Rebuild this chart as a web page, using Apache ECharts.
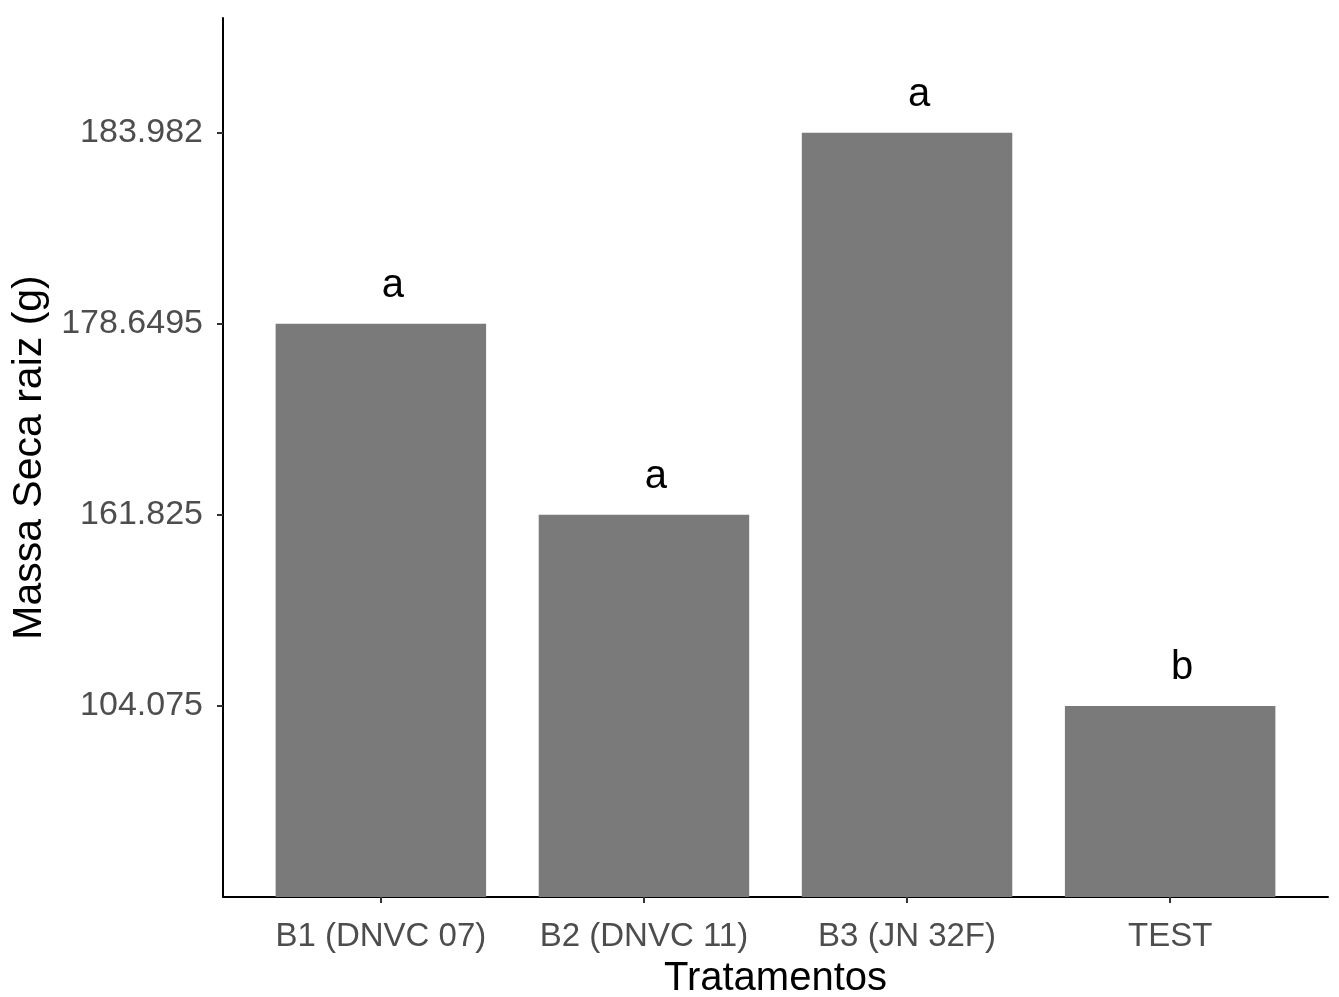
<!DOCTYPE html>
<html>
<head>
<meta charset="utf-8">
<script src="https://cdn.jsdelivr.net/npm/echarts@6/dist/echarts.min.js"></script>
<style>
  html, body { margin: 0; padding: 0; background: #ffffff; }
  #chart { width: 1339px; height: 997px; }
</style>
</head>
<body>
<div id="chart"></div>
<script>
// Treatments and their mean root dry mass (g)
const categories = ['B1 (DNVC 07)', 'B2 (DNVC 11)', 'B3 (JN 32F)', 'TEST'];
const values = [178.6495, 161.825, 183.982, 104.075];
// Tukey grouping letters shown above each bar
const letters = ['a', 'a', 'a', 'b'];

// The y axis is discrete: each distinct value is one level, ordered ascending
const levels = Array.from(new Set(values)).sort((a, b) => a - b);
const levelLabels = levels.map(v => String(v));

const FONT = '"Liberation Sans", Arial, sans-serif';
const GRID = { left: 223, right: 11, top: 18, bottom: 100 };
const W = 1339;
const xMin = 0.4, xMax = categories.length + 0.6;
const unitPx = (W - GRID.left - GRID.right) / (xMax - xMin);
const positions = categories.map((c, i) => i + 1);
const levelPositions = levels.map((v, i) => i + 1);

const barData = values.map((v, i) => ({
  value: [positions[i], levels.indexOf(v) + 1],
  letter: letters[i]
}));

const chart = echarts.init(document.getElementById('chart'), null, { renderer: 'canvas' });
chart.setOption({
  backgroundColor: '#ffffff',
  animation: false,
  grid: Object.assign({ containLabel: false, outerBoundsMode: 'none' }, GRID),
  xAxis: {
    type: 'value',
    min: xMin,
    max: xMax,
    name: 'Tratamentos',
    nameLocation: 'middle',
    nameGap: 62,
    nameTextStyle: { fontFamily: FONT, fontSize: 40, color: '#000000' },
    axisLine: { show: true, onZero: false, lineStyle: { color: '#000000', width: 2 } },
    axisTick: { show: true, length: 6, lineStyle: { color: '#333333', width: 2 }, customValues: positions },
    axisLabel: {
      customValues: positions,
      formatter: v => categories[Math.round(v) - 1] || '',
      fontFamily: FONT, fontSize: 33, color: '#4d4d4d', margin: 23
    },
    splitLine: { show: false }
  },
  yAxis: {
    type: 'value',
    min: 0,
    max: levels.length + 0.6,
    name: 'Massa Seca raiz (g)',
    nameLocation: 'middle',
    nameGap: 171,
    nameTextStyle: { fontFamily: FONT, fontSize: 41, color: '#000000' },
    axisLine: { show: true, onZero: false, lineStyle: { color: '#000000', width: 2 } },
    axisTick: { show: true, length: 6, lineStyle: { color: '#333333', width: 2 }, customValues: levelPositions },
    axisLabel: {
      customValues: levelPositions,
      formatter: v => levelLabels[Math.round(v) - 1] || '',
      fontFamily: FONT, fontSize: 34, color: '#4d4d4d', margin: 20
    },
    splitLine: { show: false }
  },
  series: [{
    type: 'bar',
    data: barData,
    barWidth: unitPx * 0.8,
    itemStyle: { color: '#7a7a7a' },
    label: {
      show: true,
      position: 'top',
      distance: 18,
      offset: [12, 0],
      formatter: p => p.data.letter,
      fontFamily: FONT,
      fontSize: 40,
      color: '#000000'
    }
  }]
});
</script>
</body>
</html>
